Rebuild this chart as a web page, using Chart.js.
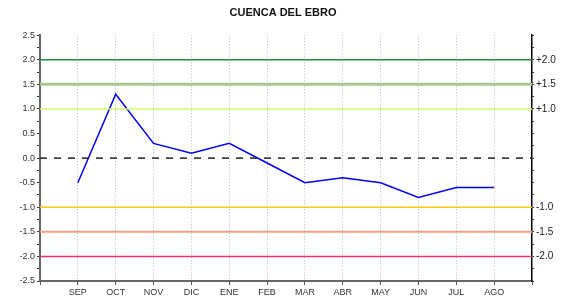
<!DOCTYPE html>
<html>
<head>
<meta charset="utf-8">
<script src="https://cdn.jsdelivr.net/npm/chart.js@4/dist/chart.umd.min.js"></script>
<style>
  html, body { margin: 0; padding: 0; background: #fff; }
  #wrap { width: 566px; height: 299px; }
</style>
</head>
<body>
<div id="wrap"><canvas id="chart"></canvas></div>
<script>
  // months of the hydrological year
  var months = ["SEP", "OCT", "NOV", "DIC", "ENE", "FEB", "MAR", "ABR", "MAY", "JUN", "JUL", "AGO"];
  var values = [-0.5, 1.3, 0.3, 0.1, 0.3, -0.1, -0.5, -0.4, -0.5, -0.8, -0.6, -0.6];

  // threshold lines and their right-hand labels
  var levels = [2.0, 1.5, 1.0, 0.0, -1.0, -1.5, -2.0];
  var levelLabels = ["+2.0", "+1.5", "+1.0", "", "-1.0", "-1.5", "-2.0"];
  var levelColors = ["#1f8a3e", "#a9c98c", "#ccff66", "#222222", "#ffcc00", "#f4a07c", "#f2306e"];
  var levelWidths = [1.5, 3, 1.5, 1.5, 1.5, 2, 1.5];

  var yMin = -2.5, yMax = 2.5;

  var datasets = levels.map(function (lv, i) {
    return {
      data: [{ x: 0, y: lv }, { x: months.length + 1, y: lv }],
      borderColor: levelColors[i],
      borderWidth: levelWidths[i],
      borderDash: lv === 0 ? [7, 7] : [],
      pointRadius: 0,
      yAxisID: "y"
    };
  });
  datasets.push({
    data: values.map(function (v, i) { return { x: i + 1, y: v }; }),
    borderColor: "#0000ff",
    borderWidth: 1.5,
    pointRadius: 0,
    tension: 0,
    yAxisID: "y"
  });

  var tickFont = { family: "Liberation Sans, Arial", size: 9 };

  new Chart(document.getElementById("chart"), {
    type: "line",
    data: { datasets: datasets },
    options: {
      responsive: true,
      maintainAspectRatio: false,
      animation: false,
      layout: { padding: 0 },
      plugins: {
        legend: { display: false },
        tooltip: { enabled: false },
        title: {
          display: true,
          text: "CUENCA DEL EBRO",
          color: "#111",
          font: { family: "Liberation Sans, Arial", size: 11, weight: "bold" },
          padding: { top: 6, bottom: 16 }
        }
      },
      scales: {
        x: {
          type: "linear",
          min: 0,
          max: months.length + 1,
          afterBuildTicks: function (scale) {
            var t = [];
            for (var i = 0; i <= months.length + 1; i++) t.push({ value: i });
            scale.ticks = t;
          },
          afterFit: function (scale) { scale.height = 18; },
          ticks: {
            color: "#333",
            font: tickFont,
            padding: 2,
            maxRotation: 0,
            autoSkip: false,
            callback: function (v) { return months[v - 1] || ""; }
          },
          grid: {
            color: function (c) {
              var v = c.tick && c.tick.value;
              return (v > 0 && v <= months.length) ? "#bbbbbb" : "rgba(0,0,0,0)";
            },
            tickColor: "#555",
            tickLength: 4,
            lineWidth: 1
          },
          border: { display: true, color: "#666", width: 2, dash: [1, 2] }
        },
        y: {
          position: "left",
          min: yMin,
          max: yMax,
          afterBuildTicks: function (scale) {
            var t = [];
            for (var v = yMin; v <= yMax + 0.001; v += 0.25) t.push({ value: Math.round(v * 100) / 100 });
            scale.ticks = t;
          },
          afterFit: function (scale) { scale.width = 40; },
          ticks: {
            color: "#333",
            font: tickFont,
            padding: 2,
            autoSkip: false,
            callback: function (v) {
              return Math.abs(v * 2 - Math.round(v * 2)) < 0.01 ? v.toFixed(1) : "";
            }
          },
          grid: { drawOnChartArea: false, tickColor: "#333", tickLength: 3 },
          border: { display: true, color: "#666", width: 2 }
        },
        y2: {
          position: "right",
          min: yMin,
          max: yMax,
          afterBuildTicks: function (scale) {
            var t = [];
            for (var v = yMin; v <= yMax + 0.001; v += 0.25) t.push({ value: Math.round(v * 100) / 100 });
            scale.ticks = t;
          },
          afterFit: function (scale) { scale.width = 34; },
          ticks: {
            color: "#222",
            font: { family: "Liberation Sans, Arial", size: 10 },
            padding: 2,
            autoSkip: false,
            callback: function (v) {
              var i = levels.indexOf(v);
              return i >= 0 ? levelLabels[i] : "";
            }
          },
          grid: { drawOnChartArea: false, tickColor: "#333", tickLength: 2 },
          border: { display: true, color: "#000", width: 1.5 }
        }
      }
    }
  });
</script>
</body>
</html>
